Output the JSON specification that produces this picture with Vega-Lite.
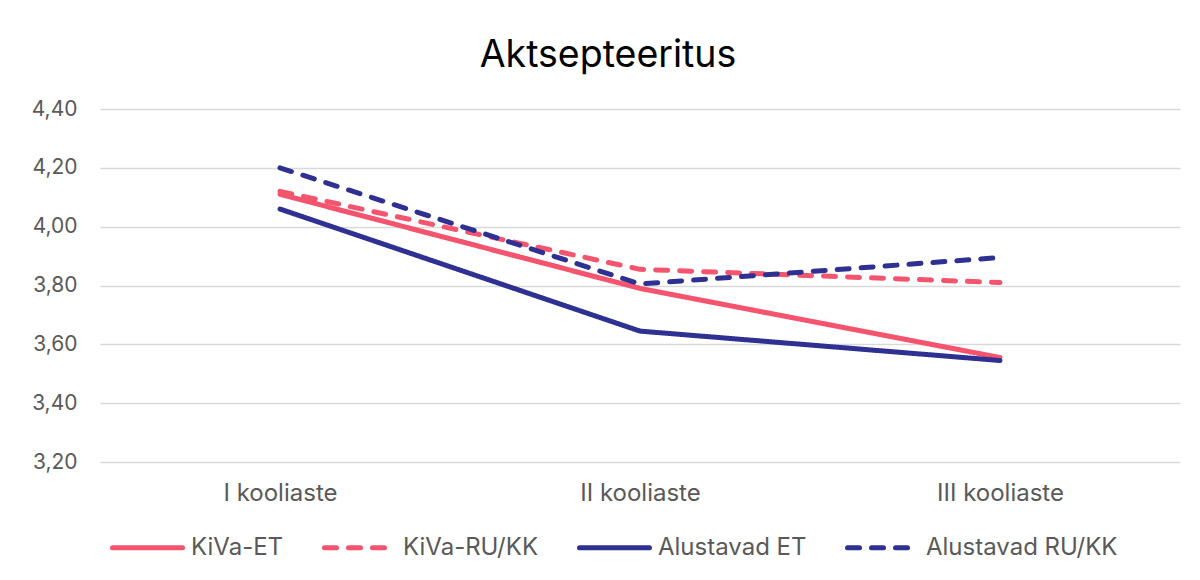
{
  "$schema": "https://vega.github.io/schema/vega-lite/v6.json",
  "width": 1080,
  "height": 353,
  "autosize": {"type": "none"},
  "padding": {"left": 100, "top": 109, "right": 20, "bottom": 118},
  "background": "white",
  "config": {
    "font": "Inter",
    "locale": {"number": {"decimal": ",", "thousands": " ", "grouping": [3], "currency": ["", " €"]}},
    "view": {"stroke": null}
  },
  "title": {"text": "Aktsepteeritus", "fontSize": 37.5, "font": "Inter", "fontWeight": "normal", "color": "#000000", "offset": 24, "anchor": "middle", "dx": -32},
  "data": {"values": [
    {"aste": "I kooliaste", "series": "KiVa-ET", "value": 4.11},
    {"aste": "II kooliaste", "series": "KiVa-ET", "value": 3.79},
    {"aste": "III kooliaste", "series": "KiVa-ET", "value": 3.555},
    {"aste": "I kooliaste", "series": "KiVa-RU/KK", "value": 4.12},
    {"aste": "II kooliaste", "series": "KiVa-RU/KK", "value": 3.855},
    {"aste": "III kooliaste", "series": "KiVa-RU/KK", "value": 3.81},
    {"aste": "I kooliaste", "series": "Alustavad ET", "value": 4.06},
    {"aste": "II kooliaste", "series": "Alustavad ET", "value": 3.645},
    {"aste": "III kooliaste", "series": "Alustavad ET", "value": 3.545},
    {"aste": "I kooliaste", "series": "Alustavad RU/KK", "value": 4.2},
    {"aste": "II kooliaste", "series": "Alustavad RU/KK", "value": 3.805},
    {"aste": "III kooliaste", "series": "Alustavad RU/KK", "value": 3.895}
  ]},
  "mark": {"type": "line", "strokeWidth": 5, "strokeCap": "round", "strokeJoin": "round"},
  "encoding": {
    "x": {"field": "aste", "type": "nominal", "sort": ["I kooliaste", "II kooliaste", "III kooliaste"],
      "scale": {"type": "point", "padding": 0.5},
      "axis": {"title": null, "labelAngle": 0, "labelFontSize": 24, "labelColor": "#595959", "labelPadding": 19, "domain": false, "ticks": false, "grid": false}},
    "y": {"field": "value", "type": "quantitative",
      "scale": {"domain": [3.2, 4.4], "nice": false, "zero": false},
      "axis": {"title": null, "values": [3.2, 3.4, 3.6, 3.8, 4.0, 4.2, 4.4], "format": ".2f", "labelFontSize": 21, "labelColor": "#595959", "labelPadding": 23, "domain": false, "ticks": false, "gridColor": "#d9d9d9", "gridWidth": 1.5}},
    "color": {"field": "series", "type": "nominal",
      "scale": {"domain": ["KiVa-ET", "KiVa-RU/KK", "Alustavad ET", "Alustavad RU/KK"], "range": ["#F4546D", "#F4546D", "#2E3192", "#2E3192"]},
      "legend": {"title": null, "orient": "none", "legendX": 10, "legendY": 401, "direction": "horizontal", "columns": 4, "symbolType": "stroke", "symbolSize": 4900, "symbolStrokeWidth": 5, "labelFontSize": 24, "labelColor": "#595959", "labelOffset": 6, "labelLimit": 400, "columnPadding": 30,
        "encode": {"symbols": {"update": {"strokeCap": {"value": "round"}}}}}},
    "strokeDash": {"field": "series", "type": "nominal",
      "scale": {"domain": ["KiVa-ET", "KiVa-RU/KK", "Alustavad ET", "Alustavad RU/KK"], "range": [[1, 0], [12, 12], [1, 0], [12, 12]]},
      "legend": null}
  }
}
